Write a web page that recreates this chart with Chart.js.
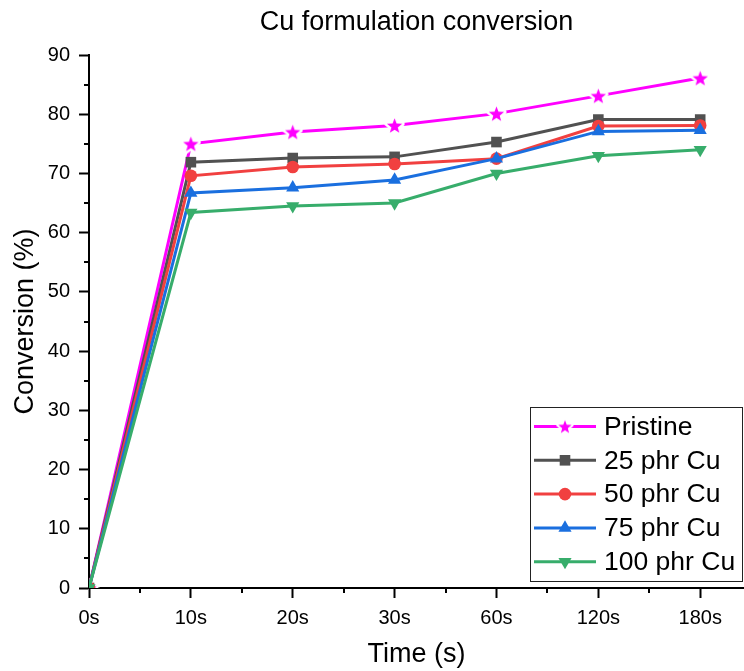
<!DOCTYPE html>
<html>
<head>
<meta charset="utf-8">
<script src="https://cdn.jsdelivr.net/npm/chart.js@4.4.1/dist/chart.umd.min.js"></script>
<style>
  html, body { margin: 0; padding: 0; background: #fff; }
  #wrap { width: 744px; height: 671px; }
</style>
</head>
<body>
<div id="wrap"><canvas id="chart"></canvas></div>
<script>
const timeLabels = ['0s', '10s', '20s', '30s', '60s', '120s', '180s'];
const seriesNames = ['Pristine', '25 phr Cu', '50 phr Cu', '75 phr Cu', '100 phr Cu'];
const pristine = [0, 75.0, 77.0, 78.1, 80.1, 83.1, 86.1];
const cu25 = [0, 71.9, 72.6, 72.8, 75.3, 79.1, 79.1];
const cu50 = [0, 69.6, 71.1, 71.6, 72.5, 78.0, 78.1];
const cu75 = [0, 66.7, 67.6, 68.9, 72.5, 77.1, 77.3];
const cu100 = [0, 63.4, 64.5, 65.0, 70.0, 73.0, 74.0];
const seriesColors = ['#ff00ff', '#515151', '#f14040', '#1a6fdf', '#37ad6b'];

const FONT = "'Liberation Sans', Arial, sans-serif";

// filled 5-point star used as the Pristine marker, with a white halo
// so the line stops short of it like in Origin
function makeStar(size, color, halo) {
    const c = document.createElement('canvas');
    c.width = size; c.height = size;
    const g = c.getContext('2d');
    const cx = size / 2, cy = size / 2 + size * 0.04, ro = size / 2 - halo, ri = ro * 0.42;
    g.beginPath();
    for (let i = 0; i < 10; i++) {
        const r = i % 2 ? ri : ro;
        const a = -Math.PI / 2 + i * Math.PI / 5;
        g.lineTo(cx + r * Math.cos(a), cy + r * Math.sin(a));
    }
    g.closePath();
    if (halo) {
        g.lineJoin = 'round';
        g.lineWidth = halo * 2;
        g.strokeStyle = '#fff';
        g.stroke();
    }
    g.fillStyle = color;
    g.fill();
    return c;
}

const starBig = makeStar(21, seriesColors[0], 2.5);
const starSmall = makeStar(18, seriesColors[0], 2);

const styles = [
    { pointStyle: starBig, legendStyle: starSmall, radius: 8, rotation: 0, legendRadius: 8 },
    { pointStyle: 'rect', radius: 7.5, rotation: 0, legendRadius: 7.5 },
    { pointStyle: 'circle', radius: 6.3, rotation: 0, legendRadius: 6.3 },
    { pointStyle: 'triangle', radius: 7.6, rotation: 0, legendRadius: 7.6 },
    { pointStyle: 'triangle', radius: 7.6, rotation: 180, legendRadius: 7.6 }
];

const allSeries = [pristine, cu25, cu50, cu75, cu100];

const datasets = allSeries.map((vals, i) => ({
    label: seriesNames[i],
    data: vals.map((v, k) => ({ x: k, y: v })),
    borderColor: seriesColors[i],
    backgroundColor: seriesColors[i],
    borderWidth: 3,
    pointStyle: styles[i].pointStyle,
    pointRadius: styles[i].radius,
    pointRotation: styles[i].rotation,
    pointBorderWidth: 0,
    pointHoverRadius: styles[i].radius,
    tension: 0,
    order: 10 - i
}));

// minor ticks between the labelled ones
const minorTicks = {
    id: 'minorTicks',
    afterDraw(chart) {
        const ctx = chart.ctx, xs = chart.scales.x, ys = chart.scales.y;
        const a = chart.chartArea;
        ctx.save();
        ctx.strokeStyle = '#000';
        ctx.lineWidth = 2;
        ctx.beginPath();
        for (let v = 0.5; v < xs.max; v += 1) {
            const px = Math.round(xs.getPixelForValue(v));
            ctx.moveTo(px, a.bottom);
            ctx.lineTo(px, a.bottom + 5);
        }
        for (let v = 5; v < ys.max; v += 10) {
            const py = Math.round(ys.getPixelForValue(v));
            ctx.moveTo(a.left, py);
            ctx.lineTo(a.left - 5, py);
        }
        ctx.stroke();
        ctx.restore();
    }
};

// Origin-like legend box inside the plot
const boxLegend = {
    id: 'boxLegend',
    afterDatasetsDraw(chart) {
        const ctx = chart.ctx;
        const x0 = 530, y0 = 407, w = 212, h = 174;
        ctx.save();
        ctx.fillStyle = '#fff';
        ctx.fillRect(x0, y0, w, h);
        ctx.strokeStyle = '#222';
        ctx.lineWidth = 1;
        ctx.strokeRect(x0 + 0.5, y0 + 0.5, w, h);
        ctx.font = '26.5px ' + FONT;
        ctx.textBaseline = 'middle';
        chart.data.datasets.forEach((ds, i) => {
            const y = 426.5 + i * 33.8;
            ctx.strokeStyle = ds.borderColor;
            ctx.lineWidth = 3;
            ctx.beginPath();
            ctx.moveTo(534, y);
            ctx.lineTo(596, y);
            ctx.stroke();
            ctx.fillStyle = ds.backgroundColor;
            Chart.helpers.drawPoint(ctx, {
                pointStyle: styles[i].legendStyle || styles[i].pointStyle,
                rotation: styles[i].rotation,
                radius: styles[i].legendRadius,
                borderWidth: 0
            }, 565, y);
            ctx.fillStyle = '#000';
            ctx.fillText(ds.label, 604, y + 1);
        });
        ctx.restore();
    }
};

new Chart(document.getElementById('chart'), {
    type: 'line',
    data: { datasets },
    options: {
        responsive: true,
        maintainAspectRatio: false,
        animation: false,
        layout: { padding: 0, autoPadding: false },
        plugins: {
            legend: { display: false },
            tooltip: { enabled: false },
            title: {
                display: true,
                text: 'Cu formulation conversion',
                fullSize: false,
                color: '#000',
                font: { family: FONT, size: 27, weight: 'normal' },
                padding: { top: 6, bottom: 16.6 }
            }
        },
        scales: {
            x: {
                type: 'linear',
                min: 0,
                max: 6.43,
                afterFit: s => { s.height = 83; s.paddingLeft = 0; s.paddingRight = 0; },
                afterBuildTicks: s => { s.ticks = timeLabels.map((t, i) => ({ value: i })); },
                border: { display: true, color: '#000', width: 2 },
                grid: { display: true, drawOnChartArea: false, drawTicks: true, tickLength: 10, tickColor: '#000', tickWidth: 2 },
                ticks: {
                    color: '#000',
                    padding: 8,
                    maxRotation: 0,
                    font: { family: FONT, size: 20 },
                    callback: v => timeLabels[v] ?? ''
                },
                title: {
                    display: true,
                    text: 'Time (s)',
                    color: '#000',
                    font: { family: FONT, size: 27 },
                    padding: { top: 0, bottom: 0 }
                }
            },
            y: {
                min: 0,
                max: 90,
                afterFit: s => { s.width = 89; },
                border: { display: true, color: '#000', width: 2 },
                grid: { display: true, drawOnChartArea: false, drawTicks: true, tickLength: 10, tickColor: '#000', tickWidth: 2 },
                ticks: {
                    stepSize: 10,
                    color: '#000',
                    padding: 9,
                    font: { family: FONT, size: 20 }
                },
                title: {
                    display: true,
                    text: 'Conversion (%)',
                    color: '#000',
                    font: { family: FONT, size: 27 },
                    padding: { top: 9, bottom: 0 }
                }
            }
        }
    },
    plugins: [minorTicks, boxLegend]
});
</script>
</body>
</html>
